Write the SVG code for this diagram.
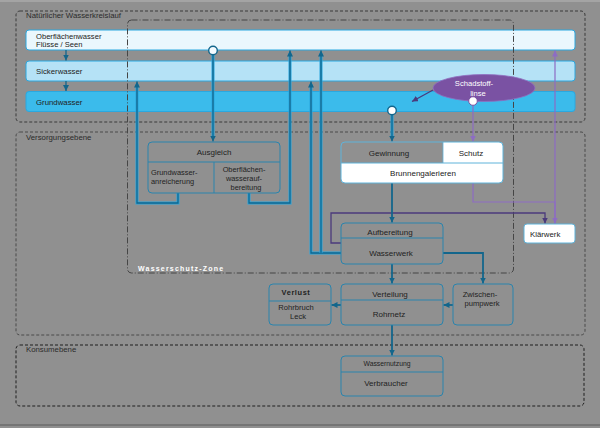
<svg xmlns="http://www.w3.org/2000/svg" width="600" height="428" viewBox="0 0 600 428">
<defs>
<marker id="aT" markerUnits="userSpaceOnUse" markerWidth="7" markerHeight="7" refX="6" refY="3" orient="auto"><path d="M0,0 L6,3 L0,6 z" fill="#13668c"/></marker>
<marker id="aP" markerUnits="userSpaceOnUse" markerWidth="7" markerHeight="7" refX="6" refY="3" orient="auto"><path d="M0,0 L6,3 L0,6 z" fill="#8d6cc4"/></marker>
<marker id="aD" markerUnits="userSpaceOnUse" markerWidth="7" markerHeight="7" refX="6" refY="3" orient="auto"><path d="M0,0 L6,3 L0,6 z" fill="#4b3a7c"/></marker>
</defs>
<style>
text{font-family:"Liberation Sans",Arial,sans-serif;fill:#222;font-size:8px}
.lab{fill:#2b2b2b;font-size:7.8px}
.frame{fill:none;stroke:#3a3a3a;stroke-width:1;stroke-dasharray:3 2}
.band{stroke:#2aa8e0;stroke-width:1}
.box{fill:none;stroke:#2a84ad;stroke-width:1}
.div{stroke:#2a84ad;stroke-width:1}
.halo{fill:none;stroke:#29a6de;stroke-width:3}
.core{fill:none;stroke:#13668c;stroke-width:1.3}
.sup{fill:none;stroke:#13668c;stroke-width:1.8}
.pl{fill:none;stroke:#8d6cc4;stroke-width:1.2}
.pd{fill:none;stroke:#4b3a7c;stroke-width:1.3}
.m{text-anchor:middle}
</style>
<rect x="0" y="0" width="600" height="428" fill="#909090"/>
<rect x="0" y="0" width="600" height="2" fill="#a4a4a4"/>
<rect x="0" y="424.5" width="600" height="1" fill="#5a5a5a"/>

<g id="frame-natur">
<rect class="frame" x="16" y="11" width="569" height="111" rx="4"/>
<text class="lab" x="26" y="17.5">Natürlicher Wasserkreislauf</text>
</g>
<g id="frame-versorgung">
<rect class="frame" x="16" y="132" width="569" height="203" rx="4" style="stroke:#4a4a4a"/>
<text class="lab" x="26" y="139.5">Versorgungsebene</text>
</g>
<g id="frame-konsum">
<rect class="frame" x="16" y="345" width="568" height="61" rx="4" style="stroke:#1e1e1e"/>
<text class="lab" x="26" y="352">Konsumebene</text>
</g>

<g id="band-oberflaechenwasser">
<rect class="band" x="26" y="30" width="549" height="20" rx="3" fill="#eaf7fd"/>
<text x="36" y="38.5" style="font-size:7.6px">Oberflächenwasser</text>
<text x="36" y="47" style="font-size:7.6px">Flüsse / Seen</text>
</g>
<g id="band-sickerwasser">
<rect class="band" x="26" y="61" width="549" height="20" rx="3" fill="#b5e2f6"/>
<text x="36" y="74" style="font-size:7.8px">Sickerwasser</text>
</g>
<g id="band-grundwasser">
<rect class="band" x="26" y="91.5" width="549" height="20" rx="3" fill="#3bbbeb"/>
<text x="36" y="104.5" style="font-size:7.8px">Grundwasser</text>
</g>

<g id="zone-wasserschutz">
<rect x="127.5" y="20" width="386" height="253" rx="4" fill="none" stroke="#454545" stroke-width="1" stroke-dasharray="6 2 1 2"/>
<text x="138" y="271" style="font-size:7px;font-weight:bold;fill:#ffffff;letter-spacing:1.2px">Wasserschutz-Zone</text>
</g>

<g id="schadstofflinse">
<ellipse cx="484" cy="88" rx="51" ry="13.5" fill="#7a52a3" stroke="#8f6fc0" stroke-width="0.8"/>
<text class="m" x="474" y="86" style="fill:#ffffff;font-size:7.6px">Schadstoff-</text>
<text class="m" x="478" y="95.5" style="fill:#ffffff;font-size:7.6px">linse</text>
</g>

<g id="connectors">
<path class="core" d="M66,50 V60.5" marker-end="url(#aT)"/>
<path class="core" d="M66,81 V91" marker-end="url(#aT)"/>

<path class="halo" d="M178,193 V203 H137 V84"/>
<path class="core" d="M178,193 V203 H137 V81.5" marker-end="url(#aT)"/>
<path class="halo" d="M249,193 V203 H290 V53"/>
<path class="core" d="M249,193 V203 H290 V50.5" marker-end="url(#aT)"/>
<path class="halo" d="M213,55 V138"/>
<path class="core" d="M213,55 V141.5" marker-end="url(#aT)"/>
<circle cx="213" cy="50.5" r="4.3" fill="#f4fbff" stroke="#13668c" stroke-width="1.4"/>

<path class="halo" d="M341,253 H311 V84"/>
<path class="core" d="M341,253 H311 V81.5" marker-end="url(#aT)"/>
<path class="halo" d="M321,253 V53"/>
<path class="core" d="M321,253 V50.5" marker-end="url(#aT)"/>

<path class="halo" d="M392,115 V138"/>
<path class="core" d="M392,115 V141.5" marker-end="url(#aT)"/>
<circle cx="392" cy="110.5" r="4.3" fill="#ffffff" stroke="#13668c" stroke-width="1.4"/>

<path class="pd" d="M433,90 L412,101.5" marker-end="url(#aD)"/>
<path class="pl" d="M473,105 V141.5" marker-end="url(#aP)"/>
<circle cx="473" cy="101" r="4.3" fill="#ffffff" stroke="#7a52a3" stroke-width="1"/>
<path class="pl" d="M473,183 V202 H555 V223.5" marker-end="url(#aP)"/>
<path class="pl" d="M555,224 V50.5" marker-end="url(#aP)"/>
<path class="pd" d="M341,243 H331 V213 H545 V223.5" marker-end="url(#aD)"/>

<path class="sup" d="M392,183 V222.5" marker-end="url(#aT)"/>
<path class="sup" d="M392,264 V283.5" marker-end="url(#aT)"/>
<path class="sup" d="M443,253 H483 V283.5" marker-end="url(#aT)"/>
<path class="sup" d="M453,305 H443.5" marker-end="url(#aT)"/>
<path class="sup" d="M341,305 H331.5" marker-end="url(#aT)"/>
<path class="sup" d="M392,325 V355.5" marker-end="url(#aT)"/>
</g>

<g id="node-ausgleich">
<rect class="box" x="148" y="142" width="132" height="51" rx="4"/>
<line class="div" x1="148" y1="162" x2="280" y2="162"/>
<line class="div" x1="214" y1="162" x2="214" y2="193"/>
<text class="m" x="214" y="155">Ausgleich</text>
<text x="151" y="175" style="font-size:7.4px">Grundwasser-</text>
<text x="151" y="183.5" style="font-size:7.4px">anreicherung</text>
<text class="m" x="244" y="172" style="font-size:7.4px">Oberflächen-</text>
<text class="m" x="244" y="181" style="font-size:7.4px">wasserauf-</text>
<text class="m" x="246" y="190" style="font-size:7.4px">bereitung</text>
</g>

<g id="node-gewinnung">
<path d="M443,142 H499 Q503,142 503,146 V163 H443 Z" fill="#ffffff"/>
<path d="M341,163 H503 V179 Q503,183 499,183 H345 Q341,183 341,179 Z" fill="#ffffff"/>
<rect x="341" y="142" width="162" height="41" rx="4" fill="none" stroke="#5fb3da" stroke-width="1"/>
<line x1="341" y1="163" x2="503" y2="163" stroke="#5fb3da" stroke-width="1"/>
<line x1="443" y1="142" x2="443" y2="163" stroke="#5fb3da" stroke-width="0.8"/>
<text class="m" x="389" y="156">Gewinnung</text>
<text class="m" x="471" y="156">Schutz</text>
<text class="m" x="423" y="176">Brunnengalerieren</text>
</g>

<g id="node-klaerwerk">
<rect x="524" y="224" width="51" height="19" rx="3" fill="#ffffff" stroke="#5fb3da" stroke-width="1"/>
<text x="530" y="236.5" style="font-size:7.8px">Klärwerk</text>
</g>

<g id="node-wasserwerk">
<rect class="box" x="341" y="223" width="102" height="41" rx="4"/>
<line class="div" x1="341" y1="238" x2="443" y2="238"/>
<text class="m" x="390" y="235">Aufbereitung</text>
<text class="m" x="391" y="256">Wasserwerk</text>
</g>

<g id="node-verteilung">
<rect class="box" x="341" y="284" width="102" height="41" rx="4"/>
<line class="div" x1="341" y1="300" x2="443" y2="300"/>
<text class="m" x="390" y="297">Verteilung</text>
<text class="m" x="389" y="317">Rohrnetz</text>
</g>

<g id="node-zwischenpumpwerk">
<rect class="box" x="453" y="284" width="60" height="41" rx="4"/>
<text class="m" x="480" y="297" style="font-size:7.6px">Zwischen-</text>
<text class="m" x="482" y="306" style="font-size:7.6px">pumpwerk</text>
</g>

<g id="node-verlust">
<rect class="box" x="269" y="284" width="62" height="41" rx="4"/>
<line class="div" x1="269" y1="301" x2="331" y2="301"/>
<text class="m" x="296" y="295" style="font-size:7.4px;font-weight:bold;letter-spacing:0.6px">Verlust</text>
<text class="m" x="296" y="310" style="font-size:7.6px">Rohrbruch</text>
<text class="m" x="298" y="319" style="font-size:7.6px">Leck</text>
</g>

<g id="node-wassernutzung">
<rect class="box" x="341" y="356" width="102" height="40" rx="4"/>
<line class="div" x1="341" y1="372" x2="443" y2="372"/>
<text class="m" x="387" y="366" style="font-size:6.8px">Wassernutzung</text>
<text class="m" x="386" y="386">Verbraucher</text>
</g>
</svg>
